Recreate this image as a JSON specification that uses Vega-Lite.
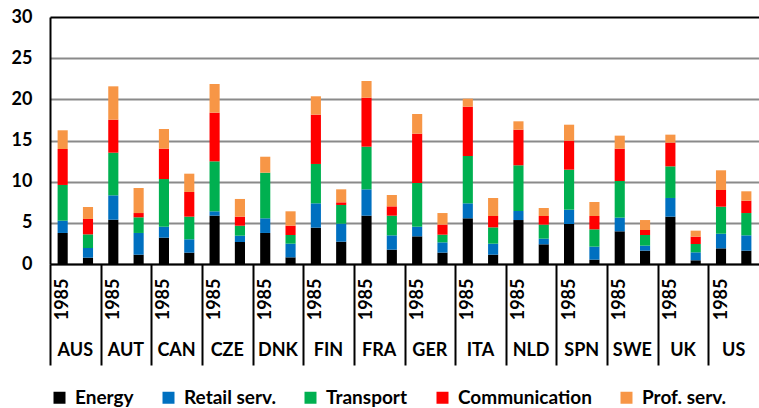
{
  "$schema": "https://vega.github.io/schema/vega-lite/v6.json",
  "width": 709,
  "height": 247,
  "autosize": {"type": "none"},
  "padding": {"left": 50, "top": 17, "right": 0, "bottom": 144},
  "background": "white",
  "config": {
    "view": {"stroke": null},
    "font": "Lato"
  },
  "data": {
    "values": [
      {"bar": "AUS|1985", "sector": "Energy", "value": 3.77},
      {"bar": "AUS|1985", "sector": "Retail serv.", "value": 1.49},
      {"bar": "AUS|1985", "sector": "Transport", "value": 4.34},
      {"bar": "AUS|1985", "sector": "Communication", "value": 4.37},
      {"bar": "AUS|1985", "sector": "Prof. serv.", "value": 2.27},
      {"bar": "AUS|", "sector": "Energy", "value": 0.77},
      {"bar": "AUS|", "sector": "Retail serv.", "value": 1.17},
      {"bar": "AUS|", "sector": "Transport", "value": 1.66},
      {"bar": "AUS|", "sector": "Communication", "value": 1.87},
      {"bar": "AUS|", "sector": "Prof. serv.", "value": 1.45},
      {"bar": "AUT|1985", "sector": "Energy", "value": 5.38},
      {"bar": "AUT|1985", "sector": "Retail serv.", "value": 2.96},
      {"bar": "AUT|1985", "sector": "Transport", "value": 5.18},
      {"bar": "AUT|1985", "sector": "Communication", "value": 4.01},
      {"bar": "AUT|1985", "sector": "Prof. serv.", "value": 4.05},
      {"bar": "AUT|", "sector": "Energy", "value": 1.13},
      {"bar": "AUT|", "sector": "Retail serv.", "value": 2.64},
      {"bar": "AUT|", "sector": "Transport", "value": 1.9},
      {"bar": "AUT|", "sector": "Communication", "value": 0.52},
      {"bar": "AUT|", "sector": "Prof. serv.", "value": 3.04},
      {"bar": "CAN|1985", "sector": "Energy", "value": 3.2},
      {"bar": "CAN|1985", "sector": "Retail serv.", "value": 1.33},
      {"bar": "CAN|1985", "sector": "Transport", "value": 5.79},
      {"bar": "CAN|1985", "sector": "Communication", "value": 3.69},
      {"bar": "CAN|1985", "sector": "Prof. serv.", "value": 2.39},
      {"bar": "CAN|", "sector": "Energy", "value": 1.38},
      {"bar": "CAN|", "sector": "Retail serv.", "value": 1.62},
      {"bar": "CAN|", "sector": "Transport", "value": 2.75},
      {"bar": "CAN|", "sector": "Communication", "value": 3.0},
      {"bar": "CAN|", "sector": "Prof. serv.", "value": 2.22},
      {"bar": "CZE|1985", "sector": "Energy", "value": 5.87},
      {"bar": "CZE|1985", "sector": "Retail serv.", "value": 0.53},
      {"bar": "CZE|1985", "sector": "Transport", "value": 6.07},
      {"bar": "CZE|1985", "sector": "Communication", "value": 5.91},
      {"bar": "CZE|1985", "sector": "Prof. serv.", "value": 3.48},
      {"bar": "CZE|", "sector": "Energy", "value": 2.67},
      {"bar": "CZE|", "sector": "Retail serv.", "value": 0.77},
      {"bar": "CZE|", "sector": "Transport", "value": 1.21},
      {"bar": "CZE|", "sector": "Communication", "value": 1.1},
      {"bar": "CZE|", "sector": "Prof. serv.", "value": 2.15},
      {"bar": "DNK|1985", "sector": "Energy", "value": 3.77},
      {"bar": "DNK|1985", "sector": "Retail serv.", "value": 1.78},
      {"bar": "DNK|1985", "sector": "Transport", "value": 5.54},
      {"bar": "DNK|1985", "sector": "Communication", "value": 0},
      {"bar": "DNK|1985", "sector": "Prof. serv.", "value": 1.94},
      {"bar": "DNK|", "sector": "Energy", "value": 0.81},
      {"bar": "DNK|", "sector": "Retail serv.", "value": 1.66},
      {"bar": "DNK|", "sector": "Transport", "value": 1.05},
      {"bar": "DNK|", "sector": "Communication", "value": 1.13},
      {"bar": "DNK|", "sector": "Prof. serv.", "value": 1.75},
      {"bar": "FIN|1985", "sector": "Energy", "value": 4.41},
      {"bar": "FIN|1985", "sector": "Retail serv.", "value": 2.96},
      {"bar": "FIN|1985", "sector": "Transport", "value": 4.78},
      {"bar": "FIN|1985", "sector": "Communication", "value": 5.99},
      {"bar": "FIN|1985", "sector": "Prof. serv.", "value": 2.23},
      {"bar": "FIN|", "sector": "Energy", "value": 2.71},
      {"bar": "FIN|", "sector": "Retail serv.", "value": 2.19},
      {"bar": "FIN|", "sector": "Transport", "value": 2.27},
      {"bar": "FIN|", "sector": "Communication", "value": 0.32},
      {"bar": "FIN|", "sector": "Prof. serv.", "value": 1.58},
      {"bar": "FRA|1985", "sector": "Energy", "value": 5.87},
      {"bar": "FRA|1985", "sector": "Retail serv.", "value": 3.2},
      {"bar": "FRA|1985", "sector": "Transport", "value": 5.18},
      {"bar": "FRA|1985", "sector": "Communication", "value": 5.95},
      {"bar": "FRA|1985", "sector": "Prof. serv.", "value": 2.03},
      {"bar": "FRA|", "sector": "Energy", "value": 1.74},
      {"bar": "FRA|", "sector": "Retail serv.", "value": 1.74},
      {"bar": "FRA|", "sector": "Transport", "value": 2.39},
      {"bar": "FRA|", "sector": "Communication", "value": 1.13},
      {"bar": "FRA|", "sector": "Prof. serv.", "value": 1.38},
      {"bar": "GER|1985", "sector": "Energy", "value": 3.36},
      {"bar": "GER|1985", "sector": "Retail serv.", "value": 1.17},
      {"bar": "GER|1985", "sector": "Transport", "value": 5.31},
      {"bar": "GER|1985", "sector": "Communication", "value": 5.99},
      {"bar": "GER|1985", "sector": "Prof. serv.", "value": 2.39},
      {"bar": "GER|", "sector": "Energy", "value": 1.38},
      {"bar": "GER|", "sector": "Retail serv.", "value": 1.25},
      {"bar": "GER|", "sector": "Transport", "value": 0.93},
      {"bar": "GER|", "sector": "Communication", "value": 1.22},
      {"bar": "GER|", "sector": "Prof. serv.", "value": 1.41},
      {"bar": "ITA|1985", "sector": "Energy", "value": 5.55},
      {"bar": "ITA|1985", "sector": "Retail serv.", "value": 1.82},
      {"bar": "ITA|1985", "sector": "Transport", "value": 5.75},
      {"bar": "ITA|1985", "sector": "Communication", "value": 5.99},
      {"bar": "ITA|1985", "sector": "Prof. serv.", "value": 0.97},
      {"bar": "ITA|", "sector": "Energy", "value": 1.13},
      {"bar": "ITA|", "sector": "Retail serv.", "value": 1.34},
      {"bar": "ITA|", "sector": "Transport", "value": 1.98},
      {"bar": "ITA|", "sector": "Communication", "value": 1.38},
      {"bar": "ITA|", "sector": "Prof. serv.", "value": 2.19},
      {"bar": "NLD|1985", "sector": "Energy", "value": 5.34},
      {"bar": "NLD|1985", "sector": "Retail serv.", "value": 1.1},
      {"bar": "NLD|1985", "sector": "Transport", "value": 5.55},
      {"bar": "NLD|1985", "sector": "Communication", "value": 4.32},
      {"bar": "NLD|1985", "sector": "Prof. serv.", "value": 1.02},
      {"bar": "NLD|", "sector": "Energy", "value": 2.39},
      {"bar": "NLD|", "sector": "Retail serv.", "value": 0.69},
      {"bar": "NLD|", "sector": "Transport", "value": 1.7},
      {"bar": "NLD|", "sector": "Communication", "value": 1.05},
      {"bar": "NLD|", "sector": "Prof. serv.", "value": 0.97},
      {"bar": "SPN|1985", "sector": "Energy", "value": 4.86},
      {"bar": "SPN|1985", "sector": "Retail serv.", "value": 1.74},
      {"bar": "SPN|1985", "sector": "Transport", "value": 4.86},
      {"bar": "SPN|1985", "sector": "Communication", "value": 3.52},
      {"bar": "SPN|1985", "sector": "Prof. serv.", "value": 1.94},
      {"bar": "SPN|", "sector": "Energy", "value": 0.53},
      {"bar": "SPN|", "sector": "Retail serv.", "value": 1.58},
      {"bar": "SPN|", "sector": "Transport", "value": 2.1},
      {"bar": "SPN|", "sector": "Communication", "value": 1.62},
      {"bar": "SPN|", "sector": "Prof. serv.", "value": 1.7},
      {"bar": "SWE|1985", "sector": "Energy", "value": 3.97},
      {"bar": "SWE|1985", "sector": "Retail serv.", "value": 1.66},
      {"bar": "SWE|1985", "sector": "Transport", "value": 4.45},
      {"bar": "SWE|1985", "sector": "Communication", "value": 3.93},
      {"bar": "SWE|1985", "sector": "Prof. serv.", "value": 1.58},
      {"bar": "SWE|", "sector": "Energy", "value": 1.62},
      {"bar": "SWE|", "sector": "Retail serv.", "value": 0.61},
      {"bar": "SWE|", "sector": "Transport", "value": 1.29},
      {"bar": "SWE|", "sector": "Communication", "value": 0.61},
      {"bar": "SWE|", "sector": "Prof. serv.", "value": 1.21},
      {"bar": "UK|1985", "sector": "Energy", "value": 5.75},
      {"bar": "UK|1985", "sector": "Retail serv.", "value": 2.27},
      {"bar": "UK|1985", "sector": "Transport", "value": 3.84},
      {"bar": "UK|1985", "sector": "Communication", "value": 2.88},
      {"bar": "UK|1985", "sector": "Prof. serv.", "value": 0.97},
      {"bar": "UK|", "sector": "Energy", "value": 0.45},
      {"bar": "UK|", "sector": "Retail serv.", "value": 0.97},
      {"bar": "UK|", "sector": "Transport", "value": 1.01},
      {"bar": "UK|", "sector": "Communication", "value": 0.89},
      {"bar": "UK|", "sector": "Prof. serv.", "value": 0.73},
      {"bar": "US|1985", "sector": "Energy", "value": 1.9},
      {"bar": "US|1985", "sector": "Retail serv.", "value": 1.78},
      {"bar": "US|1985", "sector": "Transport", "value": 3.28},
      {"bar": "US|1985", "sector": "Communication", "value": 2.03},
      {"bar": "US|1985", "sector": "Prof. serv.", "value": 2.39},
      {"bar": "US|", "sector": "Energy", "value": 1.62},
      {"bar": "US|", "sector": "Retail serv.", "value": 1.86},
      {"bar": "US|", "sector": "Transport", "value": 2.71},
      {"bar": "US|", "sector": "Communication", "value": 1.5},
      {"bar": "US|", "sector": "Prof. serv.", "value": 1.14}
    ]
  },
  "transform": [
    {"calculate": "indexof(['Energy', 'Retail serv.', 'Transport', 'Communication', 'Prof. serv.'], datum.sector)", "as": "stackOrder"}
  ],
  "layer": [
    {
      "mark": {"type": "bar"},
      "encoding": {
        "x": {
          "field": "bar",
          "type": "nominal",
          "sort": null,
          "scale": {"paddingInner": 0.6, "paddingOuter": 0.3},
          "axis": {
            "title": null,
            "values": ["AUS|1985", "AUT|1985", "CAN|1985", "CZE|1985", "DNK|1985", "FIN|1985", "FRA|1985", "GER|1985", "ITA|1985", "NLD|1985", "SPN|1985", "SWE|1985", "UK|1985", "US|1985"],
            "labelExpr": "split(datum.value, '|')[1]",
            "labelAngle": -90,
            "labelFont": "Lato",
            "labelFontWeight": "bold",
            "labelFontSize": 18,
            "labelColor": "black",
            "labelPadding": -87,
            "tickSize": 101,
            "tickWidth": 2,
            "tickColor": "black",
            "tickOffset": -12.66,
            "labelOffset": 12.66,
            "domainColor": "black",
            "domainWidth": 2,
            "grid": false
          }
        },
        "y": {
          "field": "value",
          "type": "quantitative",
          "stack": "zero",
          "scale": {"domain": [0, 30], "nice": false},
          "axis": {
            "title": null,
            "values": [0, 5, 10, 15, 20, 25, 30],
            "grid": true,
            "gridColor": {"condition": {"test": "datum.value === 30", "value": "black"}, "value": "#8a8a8a"},
            "gridWidth": 2,
            "ticks": false,
            "domainColor": "black",
            "domainWidth": 2,
            "labelPadding": 18,
            "labelFont": "Lato",
            "labelFontWeight": "bold",
            "labelFontSize": 18,
            "labelColor": "black"
          }
        },
        "order": {"field": "stackOrder", "type": "quantitative", "sort": "ascending"},
        "color": {
          "field": "sector",
          "type": "nominal",
          "sort": ["Energy", "Retail serv.", "Transport", "Communication", "Prof. serv."],
          "scale": {
            "domain": ["Energy", "Retail serv.", "Transport", "Communication", "Prof. serv."],
            "range": ["#000000", "#0070c0", "#00b050", "#ff0000", "#f79646"]
          },
          "legend": {
            "title": null,
            "orient": "bottom",
            "direction": "horizontal",
            "symbolType": "square",
            "symbolSize": 144,
            "symbolStrokeWidth": 0,
            "labelFont": "Lato",
            "labelFontWeight": "bold",
            "labelFontSize": 19,
            "labelColor": "black",
            "labelOffset": 6,
            "columnPadding": 25,
            "offset": 22
          }
        }
      }
    },
    {
      "mark": {"type": "point", "opacity": 0},
      "encoding": {
        "x": {
          "field": "bar",
          "type": "nominal",
          "sort": null,
          "axis": {
            "title": null,
            "orient": "bottom",
            "values": ["AUS|1985", "AUT|1985", "CAN|1985", "CZE|1985", "DNK|1985", "FIN|1985", "FRA|1985", "GER|1985", "ITA|1985", "NLD|1985", "SPN|1985", "SWE|1985", "UK|1985", "US|1985"],
            "labelExpr": "split(datum.value, '|')[0]",
            "labelAngle": 0,
            "labelFont": "Lato",
            "labelFontWeight": "bold",
            "labelFontSize": 18,
            "labelColor": "black",
            "labelBaseline": "middle",
            "labelPadding": 86,
            "labelOffset": 12.66,
            "ticks": false,
            "domain": false,
            "grid": false
          }
        },
        "y": {"datum": 0}
      }
    }
  ],
  "resolve": {"axis": {"x": "independent"}}
}
